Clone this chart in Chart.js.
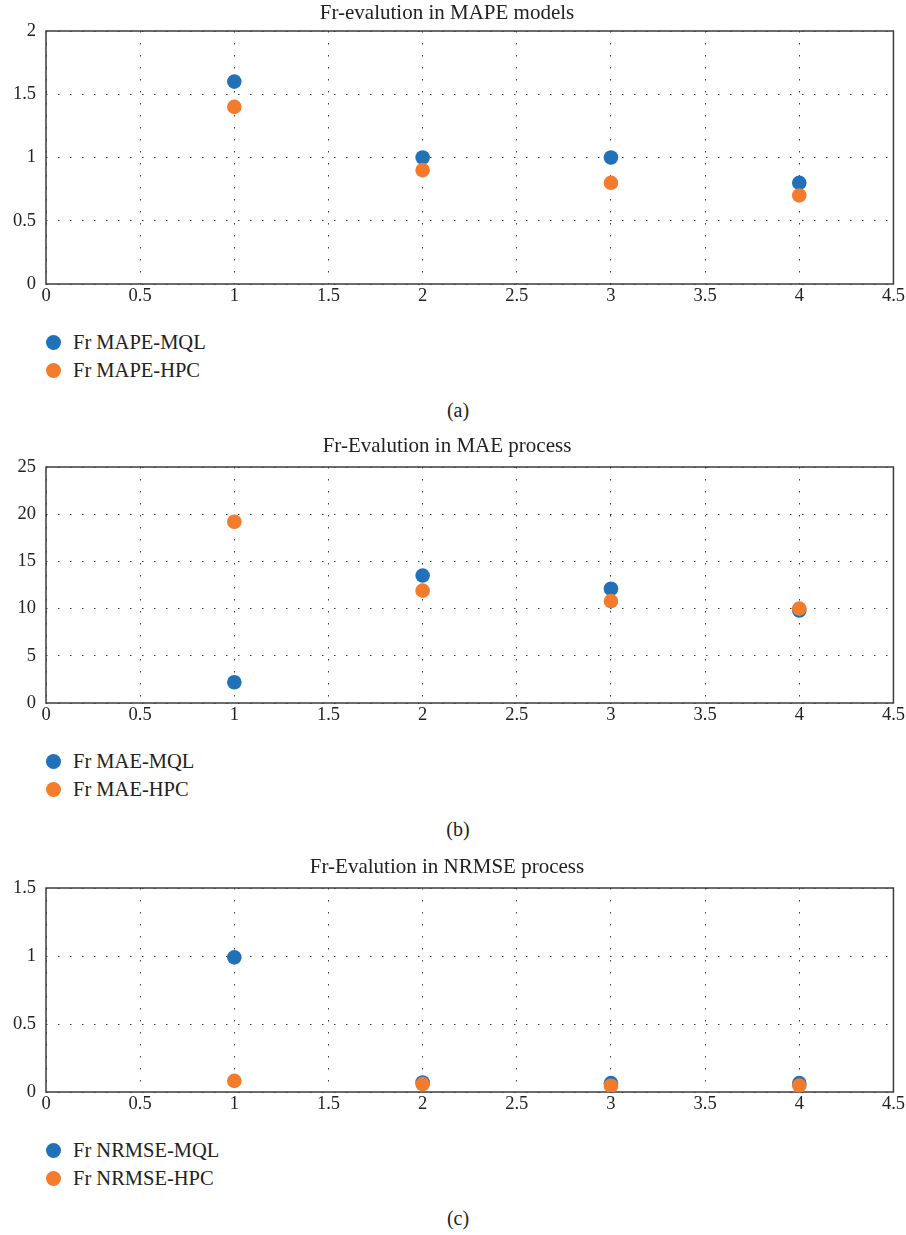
<!DOCTYPE html>
<html>
<head>
<meta charset="utf-8">
<script src="https://cdn.jsdelivr.net/npm/chart.js@4.4.1/dist/chart.umd.min.js"></script>
<style>
  body { margin: 0; background: #fff; }
  #page { position: relative; width: 906px; height: 1235px; background: #fff; font-family: "Liberation Serif", serif; color: #222; }
  canvas { position: absolute; left: 0; }
  .legend { position: absolute; left: 0; font-size: 20.5px; }
  .legend div { position: absolute; left: 73px; white-space: nowrap; line-height: 24px; height: 24px; }
  .legend span { position: absolute; left: -27px; top: 4.5px; width: 15px; height: 15px; border-radius: 50%; }
  .caption { position: absolute; left: 408px; width: 100px; text-align: center; font-size: 20px; line-height: 24px; }
</style>
</head>
<body>
<div id="page">
  <canvas id="chartA" width="906" height="314" style="top:0px"></canvas>
  <canvas id="chartB" width="906" height="303" style="top:430px"></canvas>
  <canvas id="chartC" width="906" height="272" style="top:850px"></canvas>
</div>
<script>
// x positions and axis ticks
const xValues = [1, 2, 3, 4];
const xTicks = [0, 0.5, 1, 1.5, 2, 2.5, 3, 3.5, 4, 4.5];

// (a) MAPE
const mapeMql = [1.6, 1.0, 1.0, 0.8];
const mapeHpc = [1.4, 0.9, 0.8, 0.7];
const mapeTicks = [0, 0.5, 1, 1.5, 2];

// (b) MAE
const maeMql = [2.2, 13.5, 12.1, 9.8];
const maeHpc = [19.2, 11.9, 10.8, 10.0];
const maeTicks = [0, 5, 10, 15, 20, 25];

// (c) NRMSE
const nrmseMql = [0.99, 0.07, 0.065, 0.065];
const nrmseHpc = [0.082, 0.058, 0.046, 0.047];
const nrmseTicks = [0, 0.5, 1, 1.5];

const titles = ['Fr-evalution in MAPE models', 'Fr-Evalution in MAE process', 'Fr-Evalution in NRMSE process'];
const seriesNames = [
  ['Fr MAPE-MQL', 'Fr MAPE-HPC'],
  ['Fr MAE-MQL', 'Fr MAE-HPC'],
  ['Fr NRMSE-MQL', 'Fr NRMSE-HPC']
];
const captions = ['(a)', '(b)', '(c)'];

const blue = '#2171b9';
const orange = '#f47b2c';
const serif = '"Liberation Serif", serif';

Chart.defaults.font.family = serif;
Chart.defaults.color = '#222';

// full box round the plot area
const framePlugin = {
  id: 'frame',
  beforeDatasetsDraw(chart) {
    const {ctx, chartArea: a} = chart;
    ctx.save();
    ctx.strokeStyle = '#3c3c3c';
    ctx.lineWidth = 1.5;
    ctx.strokeRect(a.left, a.top, a.right - a.left, a.bottom - a.top);
    ctx.restore();
  }
};

function toPoints(ys) {
  return xValues.map((x, i) => ({x: x, y: ys[i]}));
}

function makeChart(id, title, names, mql, hpc, yTicks, titlePad) {
  const gridStyle = {color: '#3a3a3a', lineWidth: 1, drawTicks: false};
  const borderStyle = {display: false, dash: [1.5, 10.5]};
  const tickFont = {family: serif, size: 18.5};
  return new Chart(document.getElementById(id), {
    type: 'scatter',
    data: {
      datasets: [
        {label: names[0], data: toPoints(mql), backgroundColor: blue, order: 1},
        {label: names[1], data: toPoints(hpc), backgroundColor: orange, order: 0}
      ]
    },
    options: {
      responsive: false,
      animation: false,
      layout: {padding: {left: 0, right: 12, top: 0, bottom: 0}},
      elements: {point: {radius: 7.3, borderWidth: 0, hoverRadius: 7.3}},
      plugins: {
        legend: {display: false},
        tooltip: {enabled: false},
        title: {
          display: true,
          text: title,
          font: {family: serif, size: 21, weight: 'normal', lineHeight: 1.2},
          color: '#222',
          padding: titlePad
        }
      },
      scales: {
        x: {
          type: 'linear',
          min: xTicks[0],
          max: xTicks[xTicks.length - 1],
          grid: gridStyle,
          border: borderStyle,
          ticks: {font: tickFont, color: '#222', padding: 1, maxRotation: 0, callback: v => String(v)},
          afterBuildTicks: s => { s.ticks = xTicks.map(v => ({value: v})); },
          afterFit: s => { s.height = 30; }
        },
        y: {
          min: yTicks[0],
          max: yTicks[yTicks.length - 1],
          grid: gridStyle,
          border: borderStyle,
          ticks: {font: tickFont, color: '#222', padding: 10, callback: v => String(v)},
          afterBuildTicks: s => { s.ticks = yTicks.map(v => ({value: v})); },
          afterFit: s => { s.width = 46; }
        }
      }
    },
    plugins: [framePlugin]
  });
}

makeChart('chartA', titles[0], seriesNames[0], mapeMql, mapeHpc, mapeTicks, {top: 0.5, bottom: 5.3});
makeChart('chartB', titles[1], seriesNames[1], maeMql, maeHpc, maeTicks, {top: 3.5, bottom: 8.3});
makeChart('chartC', titles[2], seriesNames[2], nrmseMql, nrmseHpc, nrmseTicks, {top: 4.5, bottom: 8.3});

// legends and captions, placed below each plot (plot bottoms 284, 703, 1092)
const plotBottoms = [284, 703, 1092];
const page = document.getElementById('page');
plotBottoms.forEach((pb, k) => {
  const lg = document.createElement('div');
  lg.className = 'legend';
  lg.style.top = (pb + 58 - 12) + 'px';
  [blue, orange].forEach((c, i) => {
    const item = document.createElement('div');
    item.style.top = (i * 28) + 'px';
    item.innerHTML = '<span style="background:' + c + '"></span>' + seriesNames[k][i];
    lg.appendChild(item);
  });
  page.appendChild(lg);
  const cap = document.createElement('div');
  cap.className = 'caption';
  cap.style.top = (pb + 126 - 12) + 'px';
  cap.textContent = captions[k];
  page.appendChild(cap);
});
</script>
</body>
</html>
